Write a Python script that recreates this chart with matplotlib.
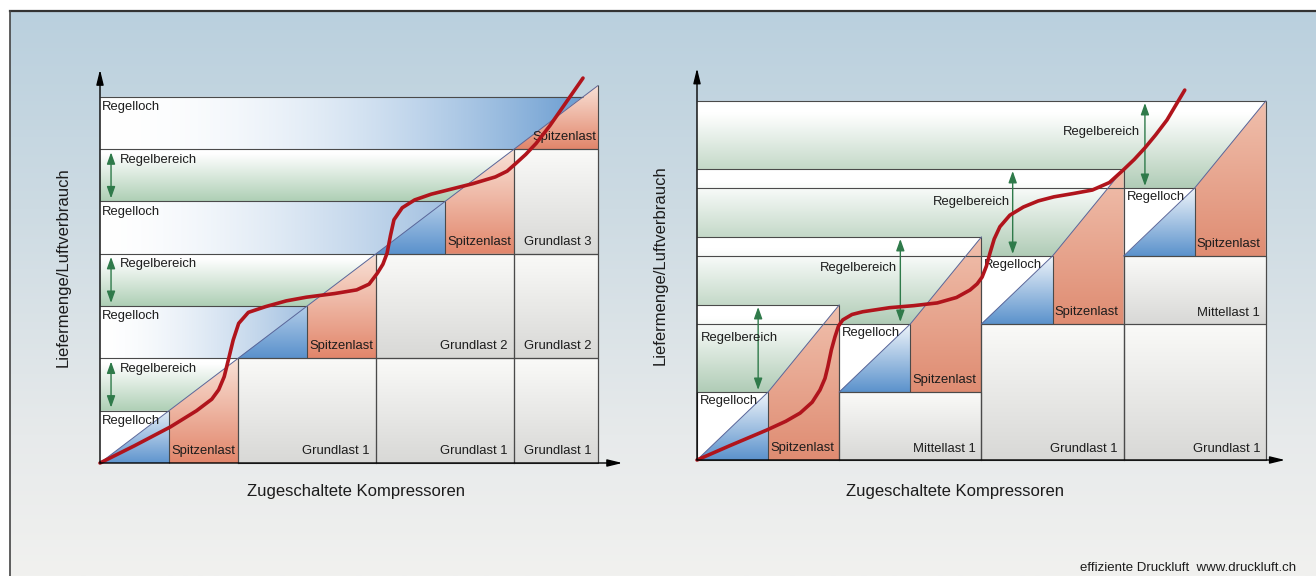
import numpy as np
import matplotlib.pyplot as plt
from matplotlib.patches import Polygon
from matplotlib.colors import to_rgb

plt.rcParams['font.family'] = ['Liberation Sans', 'DejaVu Sans']

W, H, DPI = 1316, 576, 100

# ---------------- left diagram (units: compressors / flow steps) ----------------
L_ORIGIN = (100, 463)      # pixel position of the origin
L_COL, L_ROW = 69.0, 52.3  # pixel size of one unit
L_RIGHT = 7.22

left_rl_base = [0, 2, 4, 6]
left_rl_right = [1, 3, 5, 7]
left_spitzen_x = [1, 3, 5, 6]
left_band_base = [1, 3, 5]
left_blocks_x0 = [2, 4, 6, 4, 6, 6]
left_blocks_x1 = [4, 6, L_RIGHT, 6, L_RIGHT, L_RIGHT]
left_blocks_y0 = [0, 0, 0, 2, 2, 4]
left_blocks_y1 = [2, 2, 2, 4, 4, 6]
left_blocks_lab = ['Grundlast 1', 'Grundlast 1', 'Grundlast 1',
                   'Grundlast 2', 'Grundlast 2', 'Grundlast 3']
left_curve_x = [0, 0.5, 1.02, 1.4, 1.62, 1.72, 1.80, 1.86, 1.93, 2.01, 2.15, 2.40,
                2.7, 2.99, 3.4, 3.72, 3.9, 4.02, 4.10, 4.16, 4.21, 4.26, 4.38, 4.56,
                4.8, 5.04, 5.4, 5.73, 5.9, 6.02, 6.17, 6.32, 6.52, 6.71, 7.0]
left_curve_y = [0, 0.33, 0.69, 1.0, 1.22, 1.40, 1.65, 1.97, 2.35, 2.67, 2.88, 2.99,
                3.1, 3.17, 3.24, 3.31, 3.42, 3.63, 3.80, 4.01, 4.35, 4.65, 4.88, 5.03,
                5.14, 5.22, 5.34, 5.47, 5.58, 5.72, 5.9, 6.11, 6.45, 6.81, 7.36]

# ---------------- right diagram ----------------
R_ORIGIN = (697, 460)
R_COL, R_ROW = 71.1, 68.0
R_RIGHT = 8
right_base = [0, 1, 2, 3]
right_rise = 2.28
right_blocks_x0 = [2, 4, 6, 6]
right_blocks_x1 = [4, 6, 8, 8]
right_blocks_y0 = [0, 0, 0, 2]
right_blocks_y1 = [1, 2, 2, 3]
right_blocks_lab = ['Mittellast 1', 'Grundlast 1', 'Grundlast 1', 'Mittellast 1']
right_arrow_x = [0.86, 2.86, 4.44, 6.30]
right_rb_x = [0.05, 2.81, 4.40, 6.23]
right_rb_y = [1.79, 2.82, 3.79, 4.82]
right_rb_ha = ['left', 'right', 'right', 'right']
right_curve_x = [0, 0.46, 0.98, 1.25, 1.45, 1.62, 1.73, 1.80, 1.84, 1.89, 1.94, 1.99,
                 2.05, 2.18, 2.33, 2.71, 3.05, 3.38, 3.65, 3.84, 3.94, 4.01, 4.07,
                 4.12, 4.18, 4.26, 4.4, 4.59, 4.8, 5.02, 5.3, 5.56, 5.8, 5.99, 6.15,
                 6.30, 6.45, 6.61, 6.86]
right_curve_y = [0, 0.21, 0.44, 0.57, 0.69, 0.85, 1.03, 1.2, 1.37, 1.62, 1.81, 1.97,
                 2.06, 2.14, 2.18, 2.24, 2.27, 2.31, 2.39, 2.50, 2.59, 2.69, 2.85,
                 3.04, 3.25, 3.43, 3.6, 3.72, 3.81, 3.87, 3.92, 3.97, 4.08, 4.26, 4.42,
                 4.59, 4.78, 5.0, 5.44]

# colours
LINE = '#4a4a4a'
DIAG = '#5a6699'
GREEN = '#2f7a4a'
CURVE = '#b0141c'
TXT = '#1c1c1c'
FS = 9.4


def make_axes(fig, origin, colw, rowh, xlim, ylim):
    x0 = origin[0] + xlim[0] * colw
    x1 = origin[0] + xlim[1] * colw
    ytop = origin[1] - ylim[1] * rowh
    ybot = origin[1] - ylim[0] * rowh
    ax = fig.add_axes([x0 / W, 1 - ybot / H, (x1 - x0) / W, (ybot - ytop) / H])
    ax.axis('off')
    return ax


def grad_fill(ax, verts, c0, c1, axis='y', stop=1.0, power=1.0, z=1.0):
    v = np.asarray(verts, float)
    (xa, ya), (xb, yb) = v.min(0), v.max(0)
    t = np.clip(np.linspace(0, 1, 200) / stop, 0, 1) ** power
    a, b = np.array(to_rgb(c0)), np.array(to_rgb(c1))
    col = a + (b - a) * t[:, None]
    img = col[:, None, :] if axis == 'y' else col[None, :, :]
    patch = Polygon(v, closed=True, fc='none', ec='none')
    ax.add_patch(patch)
    im = ax.imshow(img, extent=(xa, xb, ya, yb), origin='lower', aspect='auto',
                   interpolation='bilinear', zorder=z)
    im.set_clip_path(patch)


def seg(ax, x0, x1, y0, y1, color=LINE, lw=0.8, z=3):
    ax.plot([x0, x1], [y0, y1], color=color, lw=lw, zorder=z, solid_capstyle='butt')


def axes_arrows(ax, xend, yend):
    kw = dict(arrowstyle='-|>,head_length=0.9,head_width=0.22', color='black',
              lw=1.0, shrinkA=0, shrinkB=0)
    ax.annotate('', xy=(xend, 0), xytext=(0, 0), arrowprops=kw, zorder=6)
    ax.annotate('', xy=(0, yend), xytext=(0, 0), arrowprops=kw, zorder=6)


def range_arrow(ax, x, y0, y1):
    ax.annotate('', xy=(x, y1), xytext=(x, y0), zorder=4,
                arrowprops=dict(arrowstyle='<|-|>,head_length=0.7,head_width=0.25',
                                color=GREEN, lw=1.0, shrinkA=0, shrinkB=0))


fig = plt.figure(figsize=(W / DPI, H / DPI), dpi=DPI)

# ---------------- background ----------------
bg = fig.add_axes([0, 0, 1, 1])
bg.axis('off')
ys = np.linspace(0, 1, 300)
stops = [0.0, 0.35, 0.75, 1.0]
cols = np.array([to_rgb(c) for c in ['#bad0de', '#cddbe3', '#e7eaeb', '#f1f1ef']])
grad = np.stack([np.interp(ys, stops, cols[:, i]) for i in range(3)], axis=1)
bg.imshow(grad[:, None, :], extent=(10, W, H, 11), aspect='auto', origin='upper')
bg.plot([10, W], [11, 11], color='#333333', lw=1.6)
bg.plot([10, 10], [11, H], color='#444444', lw=1.2)
bg.text(1080, 568, 'effiziente Druckluft  www.druckluft.ch', fontsize=9.5,
        color=TXT, ha='left', va='center')
bg.set_xlim(0, W)
bg.set_ylim(H, 0)

# ---------------- left diagram ----------------
L_XLIM, L_YLIM = (-0.4, 7.8), (-0.5, 7.7)
ax = make_axes(fig, L_ORIGIN, L_COL, L_ROW, L_XLIM, L_YLIM)

# grey base-load blocks
for x0, x1, y0, y1, lab in zip(left_blocks_x0, left_blocks_x1, left_blocks_y0,
                               left_blocks_y1, left_blocks_lab):
    grad_fill(ax, [(x0, y0), (x1, y0), (x1, y1), (x0, y1)], '#d8d8d6', '#fafaf8',
              z=1.5)
    ax.plot([x0, x1, x1, x0, x0], [y0, y0, y1, y1, y0], color=LINE, lw=0.8, zorder=3)
    ax.text(x1 - 0.1, y0 + 0.23, lab, fontsize=FS, color=TXT, ha='right',
            va='center', zorder=4)

# green control ranges
for b in left_band_base:
    grad_fill(ax, [(0, b), (b, b), (b + 1, b + 1), (0, b + 1)], '#aecfb5', '#ffffff',
              stop=0.9, z=1.2)
    range_arrow(ax, 0.16, b + 0.06, b + 0.94)
    ax.text(0.29, b + 0.8, 'Regelbereich', fontsize=FS, color=TXT, ha='left',
            va='center', zorder=4)

# control gaps (blue)
for k, (b, r) in enumerate(zip(left_rl_base, left_rl_right)):
    if k == 0:
        ax.fill([0, r, r, 0], [b, b, b + 1, b + 1], color='white', zorder=1.3, lw=0)
        grad_fill(ax, [(0, 0), (1, 0), (1, 1)], '#5f95ce', '#e4edf7', z=1.4)
    elif k < 3:
        grad_fill(ax, [(0, b), (r, b), (r, b + 1), (0, b + 1)], '#ffffff', '#a3c1e1',
                  axis='x', power=1.6, z=1.3)
        grad_fill(ax, [(b, b), (r, b), (r, b + 1)], '#5a91cc', '#b4cee9', z=1.4)
    else:
        grad_fill(ax, [(0, b), (b, b), (b + 1, b + 1), (0, b + 1)], '#ffffff',
                  '#6b9dd1', axis='x', power=2.0, z=1.3)
    ax.text(0.03, b + 0.92, 'Regelloch', fontsize=FS, color=TXT, ha='left',
            va='top', zorder=4)

# peak load (red)
for k, sx in enumerate(left_spitzen_x):
    b = left_rl_base[k]
    if k < 3:
        verts = [(sx, b), (sx + 1, b), (sx + 1, sx + 1), (sx, sx)]
        grad_fill(ax, verts, '#e2866b', '#f9e2d7', z=1.5)
        ax.text(sx + 0.03, b + 0.23, 'Spitzenlast', fontsize=FS, color=TXT,
                ha='left', va='center', zorder=4)
    else:
        verts = [(sx, b), (L_RIGHT, b), (L_RIGHT, L_RIGHT)]
        grad_fill(ax, verts, '#e2866b', '#f9e2d7', z=1.5)
        ax.text(L_RIGHT - 0.03, b + 0.23, 'Spitzenlast', fontsize=FS, color=TXT,
                ha='right', va='center', zorder=4)

# outline segments
for k, (b, r) in enumerate(zip(left_rl_base, left_rl_right)):
    seg(ax, 0, r, b + 1, b + 1)
    if k < 3:
        seg(ax, 0, L_RIGHT, b + 2, b + 2)
        seg(ax, r, r, b, b + 1)
        seg(ax, r + 1, r + 1, 0, b + 2)
seg(ax, L_RIGHT, L_RIGHT, 0, L_RIGHT)
seg(ax, 0, L_RIGHT, 0, L_RIGHT, color=DIAG, lw=0.7, z=3.2)

ax.plot(left_curve_x, left_curve_y, color=CURVE, lw=2.6, zorder=5,
        solid_capstyle='round', solid_joinstyle='round')
axes_arrows(ax, 7.57, 7.52)
ax.text(3.71, -0.54, 'Zugeschaltete Kompressoren', fontsize=12, color=TXT,
        ha='center', va='center')
ax.text(-0.54, 3.75, 'Liefermenge/Luftverbrauch', fontsize=12, color=TXT,
        ha='center', va='center', rotation=90)
ax.set_xlim(*L_XLIM)
ax.set_ylim(*L_YLIM)

# ---------------- right diagram ----------------
R_XLIM, R_YLIM = (-0.4, 8.5), (-0.4, 5.9)
ax = make_axes(fig, R_ORIGIN, R_COL, R_ROW, R_XLIM, R_YLIM)

for x0, x1, y0, y1, lab in zip(right_blocks_x0, right_blocks_x1, right_blocks_y0,
                               right_blocks_y1, right_blocks_lab):
    grad_fill(ax, [(x0, y0), (x1, y0), (x1, y1), (x0, y1)], '#d8d8d6', '#fafaf8',
              z=1.5)
    ax.plot([x0, x1, x1, x0, x0], [y0, y0, y1, y1, y0], color=LINE, lw=0.8, zorder=3)
    ax.text(x1 - 0.08, y0 + 0.16, lab, fontsize=FS, color=TXT, ha='right',
            va='center', zorder=4)

for g, b in enumerate(right_base):
    xl = 2 * g
    top = b + right_rise
    # control range band (lower groups drawn on top)
    grad_fill(ax, [(0, b + 1), (xl + 1, b + 1), (xl + 2, top), (0, top)],
              '#b0ccb6', '#ffffff', stop=0.85, z=1.0 + (3 - g) * 0.05)
    # control gap box
    ax.fill([xl, xl + 1, xl + 1, xl], [b, b, b + 1, b + 1], color='white',
            zorder=1.4, lw=0)
    grad_fill(ax, [(xl, b), (xl + 1, b), (xl + 1, b + 1)], '#5b92cc', '#eef4fa',
              z=1.45)
    # peak load
    grad_fill(ax, [(xl + 1, b), (xl + 2, b), (xl + 2, top), (xl + 1, b + 1)],
              '#df8c72', '#f0c0ad', z=1.5)
    # outlines
    seg(ax, 0, xl + 1, b + 1, b + 1)
    seg(ax, 0, xl + 2, top, top)
    seg(ax, xl, xl + 2, b, b)
    seg(ax, xl + 1, xl + 1, b, b + 1)
    seg(ax, xl + 2, xl + 2, 0, top)
    seg(ax, xl, xl, 0, b + 1)
    ax.plot([xl, xl + 1, xl + 2], [b, b + 1, top], color=DIAG, lw=0.7, zorder=3.2)
    # labels and arrows
    ax.text(xl + 0.04, b + 0.95, 'Regelloch', fontsize=FS, color=TXT, ha='left',
            va='top', zorder=4)
    ax.text(xl + 1.03, b + 0.18, 'Spitzenlast', fontsize=FS, color=TXT, ha='left',
            va='center', zorder=4)
    range_arrow(ax, right_arrow_x[g], b + 1.03, top - 0.03)
    ax.text(right_rb_x[g], right_rb_y[g], 'Regelbereich', fontsize=FS, color=TXT,
            ha=right_rb_ha[g], va='center', zorder=4)

ax.plot(right_curve_x, right_curve_y, color=CURVE, lw=2.6, zorder=5,
        solid_capstyle='round', solid_joinstyle='round')
axes_arrows(ax, 8.27, 5.76)
ax.text(3.63, -0.46, 'Zugeschaltete Kompressoren', fontsize=12, color=TXT,
        ha='center', va='center')
ax.text(-0.52, 2.87, 'Liefermenge/Luftverbrauch', fontsize=12, color=TXT,
        ha='center', va='center', rotation=90)
ax.set_xlim(*R_XLIM)
ax.set_ylim(*R_YLIM)

fig.savefig('out.png', dpi=DPI)
